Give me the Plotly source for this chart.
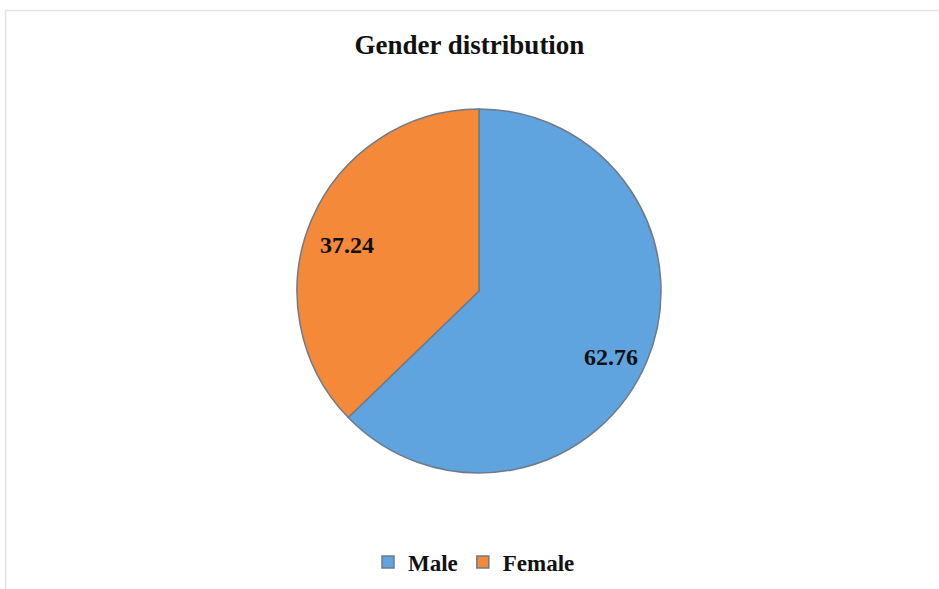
import math
import plotly.graph_objects as go

labels = ["Male", "Female"]
values = [62.76, 37.24]
colors = ["#5FA3DF", "#F5893A"]
title_text = "Gender distribution"

W, H = 939, 589
cx, cy, R = 479, 291, 182  # pie centre / radius in pixels

fig = go.Figure(go.Pie(
    labels=[f"<b>{l}</b>" for l in labels],
    values=values,
    sort=False,
    direction="clockwise",
    rotation=0,
    marker=dict(colors=colors, line=dict(color="#6f7a86", width=1.5)),
    textinfo="none",
    hoverinfo="label+value",
    domain=dict(x=[(cx - R) / W, (cx + R) / W], y=[(H - cy - R) / H, (H - cy + R) / H]),
))

# value labels placed inside each slice along its mid-angle
total = sum(values)
cum = 0.0
for v in values:
    mid = (cum + v / 2) / total * 2 * math.pi
    cum += v
    r = 0.79 * R
    px = cx + r * math.sin(mid)
    py = cy - r * math.cos(mid)
    fig.add_annotation(
        x=px / W, y=1 - py / H, xref="paper", yref="paper",
        text=f"<b>{v:.2f}</b>", showarrow=False, yshift=-10,
        font=dict(family="Liberation Serif", size=24, color="#111111"),
        xanchor="center", yanchor="middle",
    )

# faint frame lines (top and left)
fig.add_shape(type="line", xref="paper", yref="paper",
              x0=5.5 / W, x1=1, y0=1 - 10.5 / H, y1=1 - 10.5 / H,
              line=dict(color="#e2e2e2", width=1.5))
fig.add_shape(type="line", xref="paper", yref="paper",
              x0=5.5 / W, x1=5.5 / W, y0=0, y1=1 - 10.5 / H,
              line=dict(color="#e2e2e2", width=1.5))

fig.update_layout(
    width=W, height=H,
    margin=dict(l=0, r=0, t=0, b=0),
    paper_bgcolor="white", plot_bgcolor="white",
    title=dict(text=f"<b>{title_text}</b>", x=0.5, xanchor="center",
               y=1 - 45 / H, yanchor="middle", yref="paper",
               font=dict(family="Liberation Serif", size=27, color="#111111")),
    showlegend=True,
    legend=dict(orientation="h", x=474 / W, xanchor="center",
                y=1 - 562 / H, yanchor="middle",
                font=dict(family="Liberation Serif", size=23, color="#111111"),
                itemwidth=30, traceorder="normal"),
)

fig.write_html("out.html")
